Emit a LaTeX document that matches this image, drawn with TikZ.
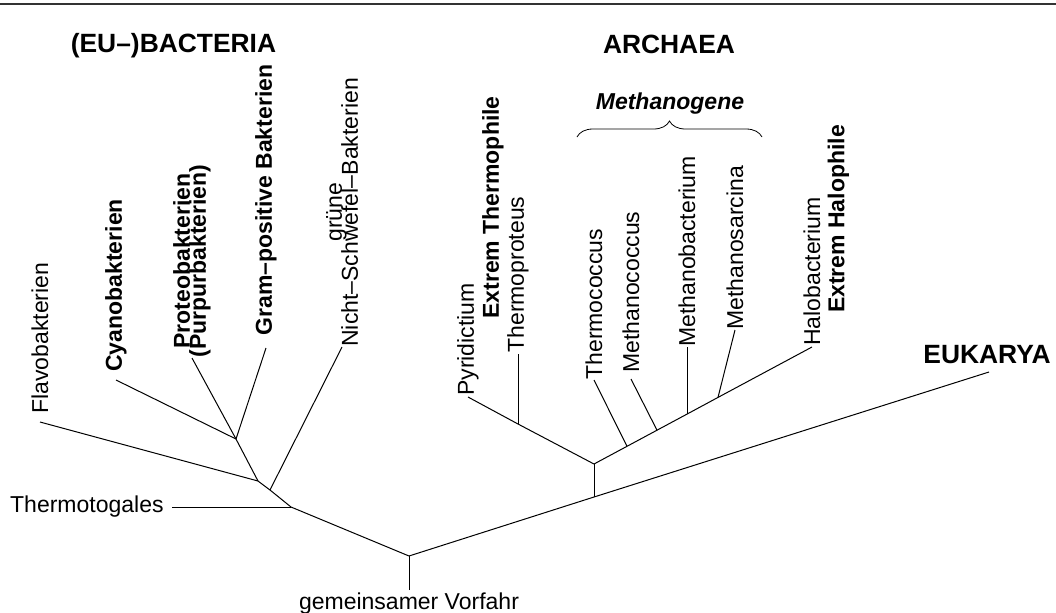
\documentclass[tikz,border=0pt]{standalone}
\usepackage{fontspec}
\setmainfont{Liberation Sans}
\usetikzlibrary{decorations.pathreplacing}

\newcommand{\etiquette}{\fontsize{11.5}{8}\selectfont\lineskiplimit=-20pt\relax}

\tikzset{
  taxon/.style={font={\etiquette}, rotate=90, anchor=west,
    inner sep=0.5pt, align=center},
  taxonfett/.style={taxon, font={\etiquette\bfseries}},
  groupe/.style={font={\etiquette\bfseries}, rotate=90, inner sep=0pt},
  domaine/.style={font={\fontsize{13.2}{15}\selectfont\bfseries}, inner sep=0pt},
  branche/.style={line width=0.5pt}
}

\begin{document}
\begin{tikzpicture}[x=0.5pt, y=-0.5pt]
    \useasboundingbox (0,0) rectangle (1056,612);

    % Trait en haut de la page
    \draw[line width=1pt, black!80] (0,4) -- (1056,4);

    % Noeuds internes de l'arbre
    \coordinate (racine) at (409,556);
    \coordinate (bt) at (291,507);
    \coordinate (bn) at (270,490);
    \coordinate (bf) at (258,481);
    \coordinate (bc) at (236,439);
    \coordinate (ae) at (594,497);
    \coordinate (ar) at (594,464);
    \coordinate (ap) at (518,424);
    \coordinate (am1) at (627,446.3);
    \coordinate (am2) at (657,430.2);
    \coordinate (am3) at (687,414.1);
    \coordinate (am4) at (718,397.4);
    \coordinate (eu) at (989,372);

    % Titres des domaines
    \node[domaine] (bacteria) at (173.5,46) {(EU–)BACTERIA};
    \node[domaine] (archaea) at (669,44) {ARCHAEA};
    \node[domaine] (eukarya) at (987,355) {EUKARYA};

    % Bacteries
    \node[anchor=east, font={\etiquette}, inner xsep=4pt] (thermotoga) at (172,507) {Thermotogales};
    \node[taxon, inner xsep=4pt] (flavo) at (40,422) {Flavobakterien};
    \node[taxonfett, inner xsep=4pt] (cyano) at (116,380) {Cyanobakterien};
    \node[taxonfett, inner xsep=0pt] (proteo) at (192,358) {Proteobakterien\\(Purpurbakterien)};
    \node[taxonfett, inner xsep=6pt] (gram) at (266,348) {Gram–positive Bakterien};
    \node[taxon, inner xsep=0pt] (gruene) at (342,347) {grüne\\Nicht–Schwefel–Bakterien};

    % Archees
    \node[taxon] (pyro) at (468,397) {Pyridictium};
    \node[taxon] (tprot) at (518,354) {Thermoproteus};
    \node[groupe] (extherm) at (493,207.5) {Extrem Thermophile};
    \node[taxon, inner xsep=0pt] (tcoc) at (594,380) {Thermococcus};
    \node[taxon, inner xsep=3pt] (mcoc) at (631,379) {Methanococcus};
    \node[taxon, inner xsep=0pt] (mbac) at (687,347) {Methanobacterium};
    \node[taxon, inner xsep=0pt] (msar) at (735,330) {Methanosarcina};
    \node[taxon] (halo) at (812,347) {Halobacterium};
    \node[groupe] (exhalo) at (838.5,219) {Extrem Halophile};

    % Methanogenes avec accolade
    \node[font={\etiquette\bfseries\itshape}, inner sep=0pt] (methano) at (670,104) {Methanogene};
    \coordinate (acc1) at (577,137);
    \coordinate (acc2) at (762,137);
    \draw[decorate, decoration={brace, amplitude=8pt}] (acc1) -- (acc2);

    % Ancetre commun
    \node[anchor=north, font={\etiquette}, inner sep=1pt] (vorfahr) at (409,590) {gemeinsamer Vorfahr};

    % Branches
    \draw[branche] (vorfahr.north) -- (racine);
    \draw[branche] (racine) -- (bt) -- (bn) -- (bf) -- (bc) -- (proteo.west);
    \draw[branche] (bt) -- (thermotoga.east);
    \draw[branche] (bn) -- (gruene.west);
    \draw[branche] (bf) -- (flavo.west);
    \draw[branche] (bc) -- (cyano.west);
    \draw[branche] (bc) -- (gram.west);
    \draw[branche] (racine) -- (ae) -- (eu);
    \draw[branche] (ae) -- (ar);
    \draw[branche] (ar) -- (ap) -- (pyro.west);
    \draw[branche] (ap) -- (tprot.west);
    \draw[branche] (ar) -- (am1) -- (am2) -- (am3) -- (am4) -- (halo.west);
    \draw[branche] (am1) -- (tcoc.west);
    \draw[branche] (am2) -- (mcoc.west);
    \draw[branche] (am3) -- (mbac.west);
    \draw[branche] (am4) -- (msar.west);
\end{tikzpicture}
\end{document}
